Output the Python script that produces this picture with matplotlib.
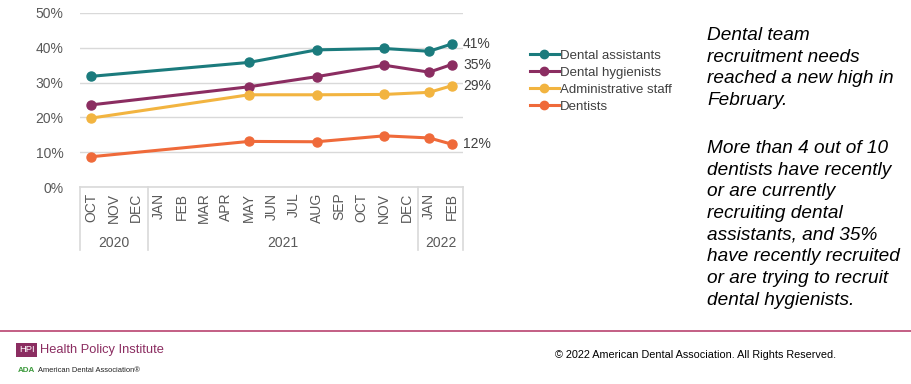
import matplotlib
matplotlib.use("Agg")
import matplotlib.pyplot as plt
import matplotlib.transforms as mtransforms
from matplotlib.lines import Line2D

plt.rcParams['font.family'] = ['Liberation Sans', 'DejaVu Sans']

# Data

months = ['OCT', 'NOV', 'DEC', 'JAN', 'FEB', 'MAR', 'APR', 'MAY', 'JUN',
          'JUL', 'AUG', 'SEP', 'OCT', 'NOV', 'DEC', 'JAN', 'FEB']
years = ['2020', '2021', '2022']
year_spans = [(0, 2), (3, 14), (15, 16)]

survey_idx = [0, 7, 10, 13, 15, 16]  # OCT20, MAY21, AUG21, NOV21, JAN22, FEB22

assistants = [31.8, 35.8, 39.4, 39.8, 39.0, 41.1]
hygienists = [23.6, 28.8, 31.7, 35.0, 33.0, 35.2]
admin_staff = [19.8, 26.5, 26.5, 26.6, 27.2, 29.1]
dentists = [8.7, 13.1, 13.0, 14.7, 14.1, 12.3]

series_names = ['Dental assistants', 'Dental hygienists', 'Administrative staff', 'Dentists']
end_labels = ['41%', '35%', '29%', '12%']
colors = ['#1b7b7d', '#8b2d61', '#f2b440', '#ef6a3a']

grid_col = '#d9d9d9'
txt_col = '#595959'

fig = plt.figure(figsize=(9.11, 3.84), dpi=100)

ax = fig.add_axes([80 / 911, 1 - 187 / 384, 383 / 911, 174 / 384])

all_series = [assistants, hygienists, admin_staff, dentists]
for vals, c, lab, name in zip(all_series, colors, end_labels, series_names):
    ax.plot(survey_idx, vals, color=c, lw=2.2, marker='o', ms=6.5, label=name,
            solid_capstyle='round', zorder=3, clip_on=False)
    ax.text(survey_idx[-1] + 0.5, vals[-1], lab, va='center', ha='left',
            fontsize=10, color='#404040')

ax.set_xlim(-0.5, 16.5)
ax.set_ylim(0, 50)
ax.set_yticks(range(0, 51, 10))
ax.set_yticklabels([f'{v}%' for v in range(0, 51, 10)], fontsize=10, color=txt_col)
ax.yaxis.grid(True, color=grid_col, lw=1)
ax.axhline(0, color=grid_col, lw=1.2, clip_on=False, zorder=1)
ax.set_axisbelow(True)
for s in ax.spines.values():
    s.set_visible(False)
ax.tick_params(axis='y', length=0, pad=12)

ax.set_xticks(range(len(months)))
ax.set_xticklabels(months, rotation=90, fontsize=10, color=txt_col)
ax.tick_params(axis='x', length=0, pad=4)

# category box below the axis
trans = mtransforms.blended_transform_factory(ax.transData, ax.transAxes)
depth = -(250 - 187) / 174
bounds = [-0.5, 2.5, 14.5, 16.5]
for b in bounds:
    ax.plot([b, b], [0, depth], color=grid_col, lw=1.2, transform=trans, clip_on=False)
for yr, (a, b) in zip(years, year_spans):
    ax.text((a + b) / 2, -(243 - 187) / 174, yr, transform=trans, ha='center',
            va='center', fontsize=10, color=txt_col)

# legend
handles = [Line2D([0], [0], color=c, lw=2.2, marker='o', ms=6) for c in colors]
fig.legend(handles, series_names, loc='upper left', bbox_to_anchor=(518 / 911, 1 - 38 / 384),
           frameon=False, fontsize=9.5, handlelength=2.2, handletextpad=0.05,
           labelspacing=0.36, labelcolor='#404040')

# commentary text
fig.text(707 / 911, 1 - 27 / 384,
         'Dental team\nrecruitment needs\nreached a new high in\nFebruary.',
         ha='left', va='top', fontsize=13.7, style='italic', color='black', linespacing=1.36)
fig.text(707 / 911, 1 - 140 / 384,
         'More than 4 out of 10\ndentists have recently\nor are currently\nrecruiting dental\n'
         'assistants, and 35%\nhave recently recruited\nor are trying to recruit\ndental hygienists.',
         ha='left', va='top', fontsize=13.7, style='italic', color='black', linespacing=1.36)

# footer
fig.add_artist(Line2D([0, 1], [1 - 330.5 / 384] * 2, color='#b9436f', lw=1.2))
fig.text(19 / 911, 1 - 350 / 384, 'HPI', fontsize=6.8, color='white', va='center', ha='left',
         bbox=dict(boxstyle='square,pad=0.3', fc='#8b2d61', ec='none'))
fig.text(40 / 911, 1 - 350 / 384, 'Health Policy Institute', fontsize=9.3, color='#8b2d61',
         va='center', ha='left')
fig.text(18 / 911, 1 - 370.5 / 384, 'ADA', fontsize=5.8, color='#3c9a3c', va='center',
         ha='left', fontweight='bold')
fig.text(38 / 911, 1 - 370.5 / 384, 'American Dental Association\u00ae', fontsize=5.4,
         color='#222222', va='center', ha='left')
fig.text(555 / 911, 1 - 355 / 384, '\u00a9 2022 American Dental Association. All Rights Reserved.',
         fontsize=7.8, color='black', va='center', ha='left')

fig.savefig('out.png', dpi=100)
